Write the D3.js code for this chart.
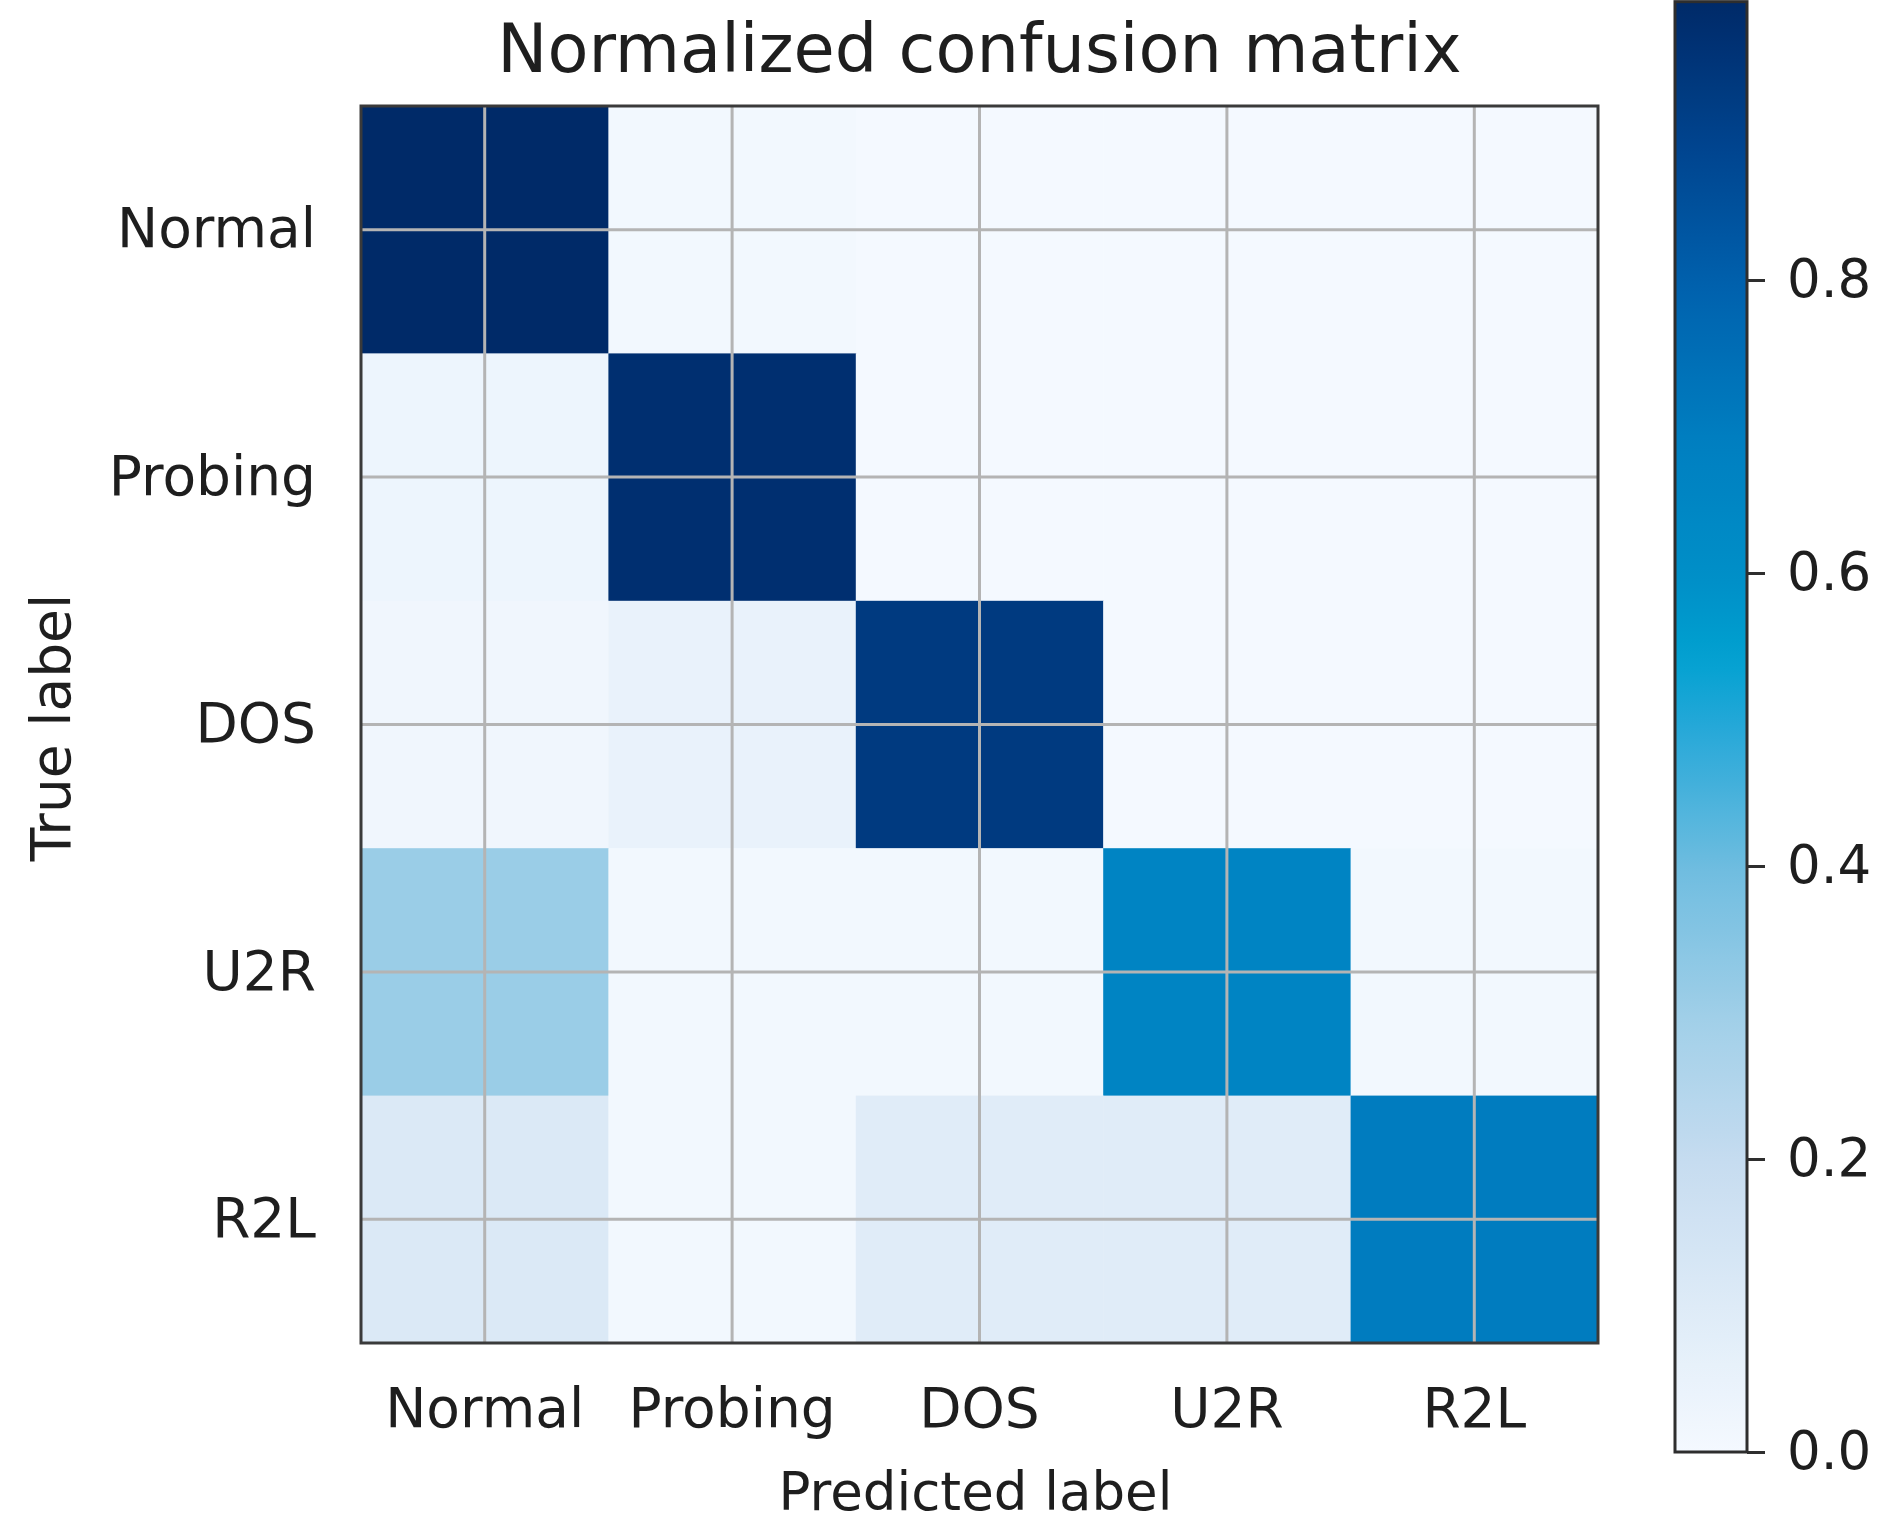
<!DOCTYPE html>
<html>
<head>
<meta charset="utf-8">
<script src="https://cdn.jsdelivr.net/npm/d3@7"></script>
<style>
  html, body { margin: 0; padding: 0; background: #ffffff; }
  text { font-family: "DejaVu Sans", sans-serif; fill: #1e1e1e; }
</style>
</head>
<body>
<svg id="chart" width="1891" height="1535"></svg>
<script>
// ---- data ----
const trueLabels = ["Normal", "Probing", "DOS", "U2R", "R2L"];
const predictedLabels = ["Normal", "Probing", "DOS", "U2R", "R2L"];
const rowNormal  = [0.99, 0.01, 0.00, 0.00, 0.00];
const rowProbing = [0.03, 0.97, 0.00, 0.00, 0.00];
const rowDOS     = [0.02, 0.05, 0.93, 0.00, 0.00];
const rowU2R     = [0.31, 0.01, 0.01, 0.66, 0.01];
const rowR2L     = [0.11, 0.01, 0.09, 0.09, 0.70];
const matrixRows = [rowNormal, rowProbing, rowDOS, rowU2R, rowR2L];
const colorbarTicks = [0.0, 0.2, 0.4, 0.6, 0.8];
const titleText = "Normalized confusion matrix";
const xLabelText = "Predicted label";
const yLabelText = "True label";

// colormap stops (as seen in the picture)
const cmapStops  = [0.0, 0.1, 0.2, 0.3, 0.4, 0.5, 0.55, 0.6, 0.7, 0.8, 0.9, 1.0];
const cmapColors = ["#f4f9ff", "#deebf7", "#c6dcf0", "#a0cfe8", "#70bde0", "#25a8d8",
                    "#00a0d0", "#0090c8", "#007ec0", "#0062ae", "#00448f", "#002a68"];

// ---- layout ----
const svg = d3.select("#chart");
const M = { left: 361, top: 106, size: 1237 };
const CB = { left: 1675, width: 72, bottom: 1452, pxPerUnit: 1465 };

const cells = [];
matrixRows.forEach((row, i) => row.forEach((v, j) => cells.push({ t: trueLabels[i], p: predictedLabels[j], v })));
const vmax = d3.max(cells, d => d.v);

const x = d3.scaleBand().domain(predictedLabels).range([M.left, M.left + M.size]);
const y = d3.scaleBand().domain(trueLabels).range([M.top, M.top + M.size]);
const color = d3.scaleLinear().domain(cmapStops.map(s => s * vmax)).range(cmapColors)
  .interpolate(d3.interpolateRgb).clamp(true);

svg.append("rect").attr("width", 1891).attr("height", 1535).attr("fill", "#ffffff");

// cells
svg.append("g").selectAll("rect").data(cells).join("rect")
  .attr("x", d => x(d.p)).attr("y", d => y(d.t))
  .attr("width", x.bandwidth() + 0.5).attr("height", y.bandwidth() + 0.5)
  .attr("fill", d => color(d.v));

// grid lines at tick positions
const grid = svg.append("g").attr("stroke", "#b4b4b4").attr("stroke-width", 3);
grid.selectAll("line.v").data(predictedLabels).join("line").attr("class", "v")
  .attr("x1", d => x(d) + x.bandwidth() / 2).attr("x2", d => x(d) + x.bandwidth() / 2)
  .attr("y1", M.top).attr("y2", M.top + M.size);
grid.selectAll("line.h").data(trueLabels).join("line").attr("class", "h")
  .attr("y1", d => y(d) + y.bandwidth() / 2).attr("y2", d => y(d) + y.bandwidth() / 2)
  .attr("x1", M.left).attr("x2", M.left + M.size);

// frame
svg.append("rect").attr("x", M.left).attr("y", M.top).attr("width", M.size).attr("height", M.size)
  .attr("fill", "none").attr("stroke", "#3a3a3a").attr("stroke-width", 3);

// axes
const xAxis = svg.append("g").attr("transform", `translate(0,${M.top + M.size})`)
  .call(d3.axisBottom(x).tickSize(0).tickPadding(45));
const yAxis = svg.append("g").attr("transform", `translate(${M.left},0)`)
  .call(d3.axisLeft(y).tickSize(0).tickPadding(45));
[xAxis, yAxis].forEach(a => {
  a.select(".domain").remove();
  a.selectAll("text").attr("font-size", 55).attr("font-family", "DejaVu Sans").attr("fill", "#1e1e1e");
});

// title & axis labels
svg.append("text").attr("x", M.left + M.size / 2).attr("y", 72)
  .attr("text-anchor", "middle").attr("font-size", 67).text(titleText);
svg.append("text").attr("x", M.left + M.size / 2 - 4).attr("y", 1510)
  .attr("text-anchor", "middle").attr("font-size", 53).text(xLabelText);
svg.append("text").attr("transform", `translate(70,${M.top + M.size / 2 + 3}) rotate(-90)`)
  .attr("text-anchor", "middle").attr("font-size", 55).text(yLabelText);

// colorbar
const cb = d3.scaleLinear().domain([0, vmax]).range([CB.bottom, CB.bottom - vmax * CB.pxPerUnit]);
const defs = svg.append("defs");
const grad = defs.append("linearGradient").attr("id", "cbgrad")
  .attr("x1", 0).attr("y1", 1).attr("x2", 0).attr("y2", 0);
grad.selectAll("stop").data(d3.range(0, 1.0001, 0.02)).join("stop")
  .attr("offset", d => d).attr("stop-color", d => color(d * vmax));
const cbTop = cb(vmax);
svg.append("rect").attr("x", CB.left).attr("y", cbTop).attr("width", CB.width)
  .attr("height", CB.bottom - cbTop).attr("fill", "url(#cbgrad)")
  .attr("stroke", "#2e2e2e").attr("stroke-width", 3);
const cbAxis = svg.append("g").attr("transform", `translate(${CB.left + CB.width},0)`)
  .call(d3.axisRight(cb).tickValues(colorbarTicks).tickFormat(d3.format(".1f")).tickSize(18).tickPadding(22));
cbAxis.select(".domain").remove();
cbAxis.selectAll("line").attr("stroke", "#2e2e2e").attr("stroke-width", 3);
cbAxis.selectAll("text").attr("font-size", 53).attr("font-family", "DejaVu Sans").attr("fill", "#1e1e1e");
</script>
</body>
</html>
